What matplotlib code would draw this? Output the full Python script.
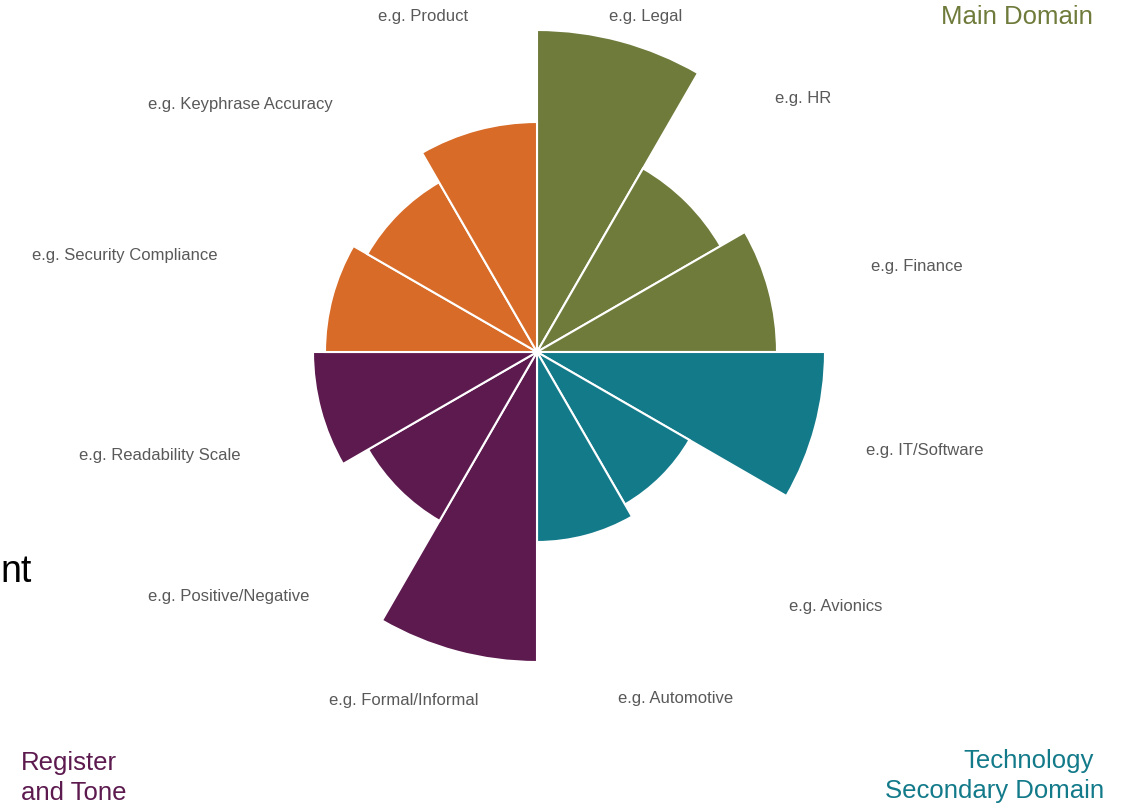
import numpy as np
import matplotlib.pyplot as plt

plt.rcParams['font.family'] = ['Liberation Sans', 'DejaVu Sans']

# wedges, clockwise from 12 o'clock
categories = ["Legal", "HR", "Finance", "IT/Software", "Avionics", "Automotive",
              "Formal/Informal", "Positive/Negative", "Readability Scale",
              "Security Compliance", "Keyphrase Accuracy", "Product"]
values = [322, 212, 240, 288, 176, 190, 310, 195, 224, 212, 196, 230]
groups = ["main", "main", "main", "tech", "tech", "tech",
          "tone", "tone", "tone", "other", "other", "other"]

colors = {"main": "#6E7B3B", "tech": "#137A8A", "tone": "#5C1A4F", "other": "#D76B27"}

# label anchor points in pixels (x, y from top)
label_pos = [(646, 16), (803, 99), (917, 267), (925, 450), (836, 606), (676, 698),
             (404, 700), (229, 596), (160, 455), (125, 255), (240, 104), (423, 16)]

W, H = 1122, 805
fig = plt.figure(figsize=(W / 100, H / 100), dpi=100)

cx, cy, R = 537, 352, 350
ax = fig.add_axes([(cx - R) / W, (H - cy - R) / H, 2 * R / W, 2 * R / H],
                  projection='polar')
ax.set_theta_zero_location('N')
ax.set_theta_direction(-1)

n = len(values)
theta = np.deg2rad(np.arange(n) * 30 + 15)
ax.bar(theta, values, width=np.deg2rad(30), align='center',
       color=[colors[g] for g in groups], edgecolor='white', linewidth=1.5)
ax.set_ylim(0, R)
ax.axis('off')

for name, (x, y) in zip(categories, label_pos):
    fig.text(x / W, 1 - y / H, "e.g. " + name, ha='center', va='center',
             fontsize=12, color='#595959')

fig.text(1093 / W, 1 - 17 / H, "Main Domain", ha='right', va='center',
         fontsize=18.5, color=colors["main"])
fig.text(21 / W, 1 - 763 / H, "Register", ha='left', va='center',
         fontsize=18.5, color=colors["tone"])
fig.text(21 / W, 1 - 793 / H, "and Tone", ha='left', va='center',
         fontsize=18.5, color=colors["tone"])
fig.text(1094 / W, 1 - 761 / H, "Technology", ha='right', va='center',
         fontsize=18.5, color=colors["tech"])
fig.text(1104 / W, 1 - 791 / H, "Secondary Domain", ha='right', va='center',
         fontsize=18.5, color=colors["tech"])
fig.text(0, 1 - 572 / H, "nt", ha='left', va='center', fontsize=27, color='black')

fig.savefig("out.png", dpi=100)
